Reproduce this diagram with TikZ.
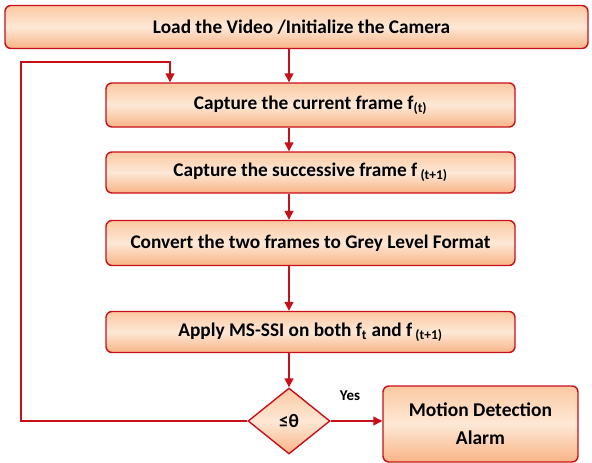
\documentclass[tikz,border=0pt]{standalone}
\usepackage{fontspec}
\setmainfont{Carlito}
\usetikzlibrary{arrows.meta,shapes.geometric}
\definecolor{bord}{HTML}{C8101A}
\definecolor{ftop}{HTML}{FCC9A2}
\definecolor{fmid}{HTML}{FDE8D6}
\definecolor{fbot}{HTML}{F8B486}
\tikzset{
  fillgrad/.style={top color=ftop,bottom color=fbot,middle color=fmid},
  procbox/.style={draw=bord,line width=1.4pt,rounded corners=6pt,fillgrad,
    minimum width=409pt,minimum height=42pt,inner sep=0pt,
    font=\fontsize{19.3}{22}\selectfont\bfseries},
  decbox/.style={diamond,draw=bord,line width=1.4pt,fillgrad,
    minimum width=82pt,minimum height=66pt,inner sep=0pt,aspect=1.24,
    font=\fontsize{19}{22}\selectfont\bfseries},
  conn/.style={draw=bord,line width=1.4pt,-{Triangle[length=9pt,width=9pt]}},
}
\begin{document}
\begin{tikzpicture}[x=1pt,y=-1pt]
\useasboundingbox (0,0) rectangle (592,463);
\node[procbox,minimum width=583pt,minimum height=43pt] (load) at (296.5,27) {\hspace{10pt}Load the Video /Initialize the Camera};
\node[procbox,minimum height=44pt] (cur) at (310.5,105) {Capture the current frame f\textsubscript{(t)}};
\node[procbox,minimum height=41pt] (succ) at (310.5,172.5) {Capture the successive frame f\,\textsubscript{(t+1)}};
\node[procbox,minimum height=45pt] (grey) at (310.5,243) {Convert the two frames to Grey Level Format};
\node[procbox,minimum height=41pt] (ms) at (310.5,332) {Apply MS-SSI on both f\textsubscript{t} and f\,\textsubscript{(t+1)}};
\node[decbox] (dec) at (289,421) {≤θ};
\node[procbox,minimum width=195pt,minimum height=76pt,align=center,
  font=\fontsize{19.5}{28}\selectfont\bfseries] (alarm) at (480.5,424) {Motion Detection\\Alarm};
\node[font=\fontsize{15}{17}\selectfont\bfseries] (yes) at (350,396) {Yes};
\coordinate (ax) at (289,0);
\coordinate (lx) at (21,0);
\coordinate (fx) at (170,0);
\coordinate (fy) at (0,62);
\draw[conn] (load.south -| ax) -- (cur.north -| ax);
\draw[conn] (cur.south -| ax) -- (succ.north -| ax);
\draw[conn] (succ.south -| ax) -- (grey.north -| ax);
\draw[conn] (grey.south -| ax) -- (ms.north -| ax);
\draw[conn] (ms.south -| ax) -- (dec.north);
\draw[conn] (dec.east) -- (alarm.west |- dec.east);
\draw[conn] (dec.west) -- (dec.west -| lx) -- (fy -| lx) -- (fy -| fx) -- (cur.north -| fx);
\end{tikzpicture}
\end{document}
